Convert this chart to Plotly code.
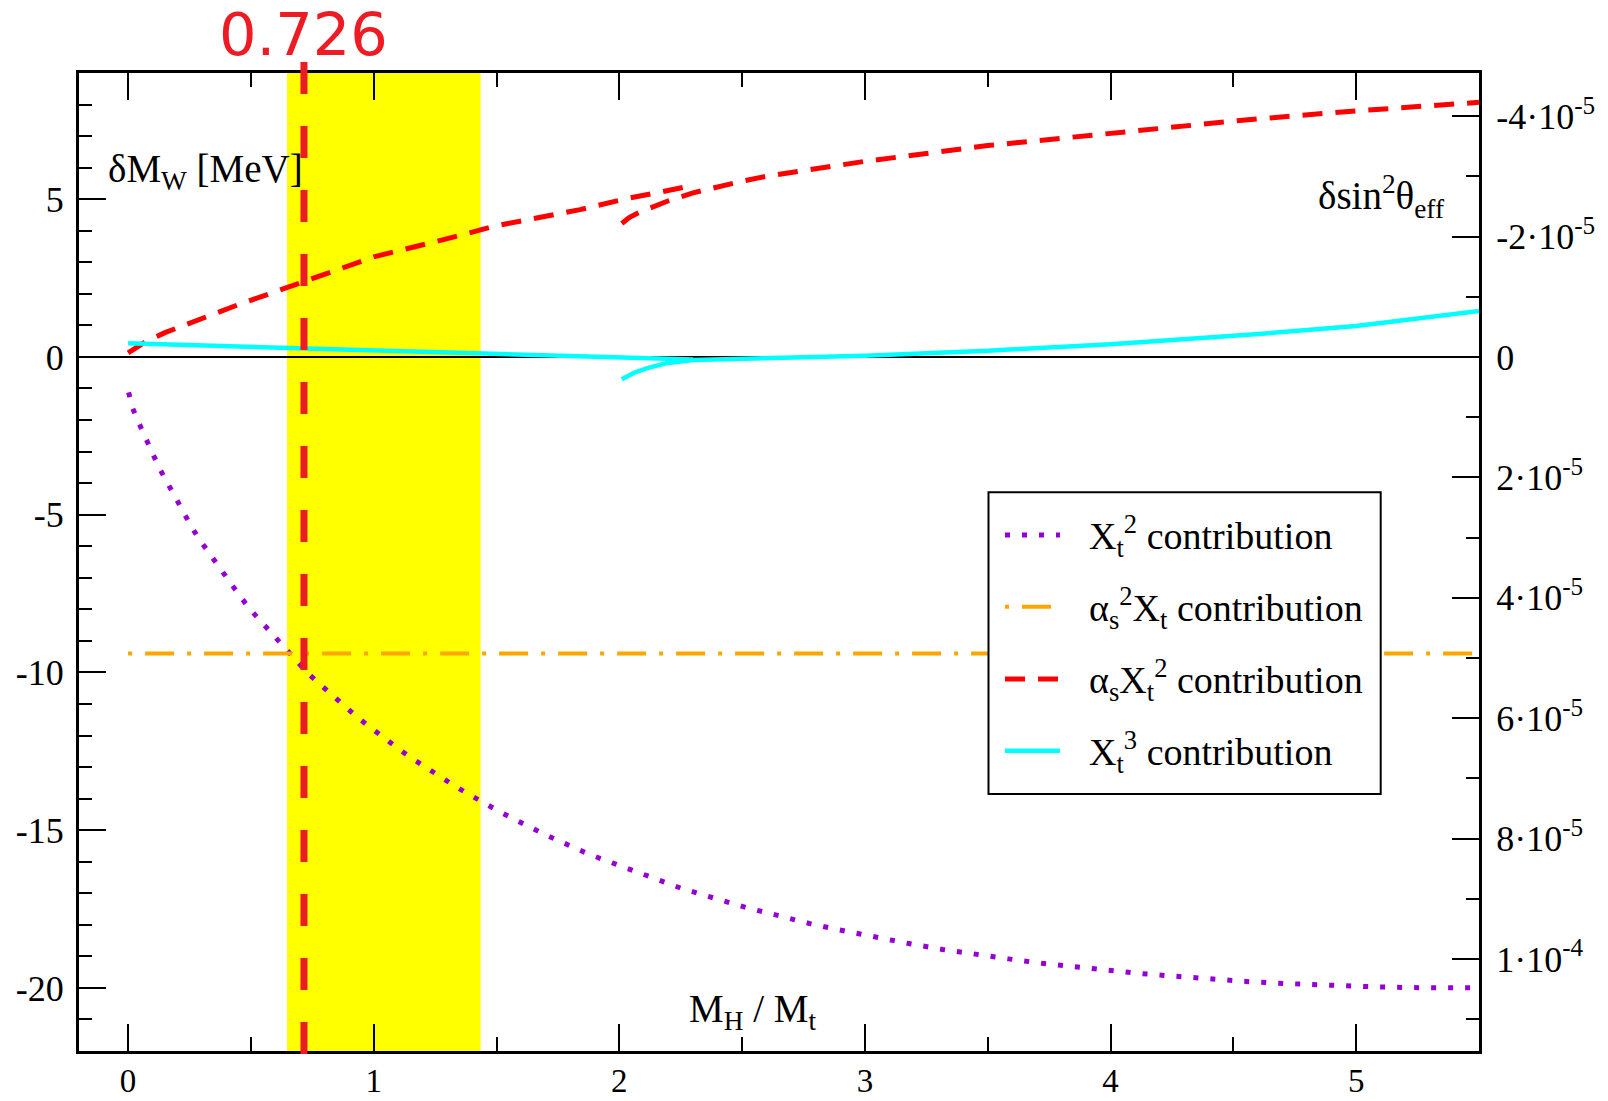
import plotly.graph_objects as go

# ---------------- data ----------------
# X_t^2 contribution (delta M_W in MeV)
xt2_x = [0.002, 0.019, 0.046, 0.072, 0.102, 0.131, 0.162, 0.195, 0.228, 0.262, 0.299, 0.338,
         0.377, 0.418, 0.458, 0.500, 0.546, 0.589, 0.634, 0.682, 0.727, 0.779, 0.829, 0.880,
         0.933, 0.986, 1.039, 1.095, 1.151, 1.207, 1.265, 1.322, 1.380, 1.439, 1.500, 1.561,
         1.621, 1.684, 1.746, 1.808, 1.870, 1.934, 2.251, 2.384, 2.515, 2.648, 2.780, 2.913,
         3.046, 3.183, 3.316, 3.449, 3.584, 3.721, 3.856, 3.993, 4.130, 4.264, 4.402, 4.539,
         4.675, 4.812, 4.949, 5.087, 5.223, 5.361, 5.500]
xt2_y = [-1.12, -1.64, -2.13, -2.61, -3.10, -3.58, -4.04, -4.52, -4.97, -5.44, -5.88, -6.32,
         -6.75, -7.19, -7.61, -8.03, -8.43, -8.83, -9.23, -9.61, -9.99, -10.36, -10.72, -11.07,
         -11.42, -11.74, -12.07, -12.39, -12.70, -12.99, -13.28, -13.56, -13.83, -14.11, -14.36, -14.61,
         -14.86, -15.09, -15.31, -15.53, -15.74, -15.93, -16.84, -17.15, -17.45, -17.71, -17.97, -18.19,
         -18.40, -18.60, -18.78, -18.94, -19.08, -19.22, -19.34, -19.45, -19.55, -19.63, -19.72, -19.79,
         -19.85, -19.90, -19.94, -19.97, -19.99, -20.00, -20.00]

# alpha_s^2 X_t contribution (constant)
as2xt_x = [0.0, 5.5]
as2xt_y = [-9.4, -9.4]

# alpha_s X_t^2 contribution: low-mass expansion and high-mass expansion
asxt2_low_x = [0.0, 0.07, 0.15, 0.3, 0.45, 0.6, 0.8, 1.0, 1.3, 1.5, 1.84, 2.03, 2.17, 2.3]
asxt2_low_y = [0.13, 0.48, 0.77, 1.22, 1.66, 2.07, 2.64, 3.17, 3.75, 4.16, 4.67, 5.02, 5.23, 5.44]
asxt2_high_x = [2.01, 2.04, 2.08, 2.13, 2.2, 2.3, 2.4, 2.5, 2.6, 3.0, 3.5, 4.0, 4.56, 5.0, 5.5]
asxt2_high_y = [4.23, 4.42, 4.58, 4.74, 4.95, 5.2, 5.4, 5.57, 5.73, 6.2, 6.7, 7.1, 7.52, 7.8, 8.07]

# X_t^3 contribution: low-mass expansion and high-mass expansion
xt3_low_x = [0.0, 0.72, 1.44, 1.84, 2.3]
xt3_low_y = [0.43, 0.27, 0.11, 0.04, -0.08]
xt3_high_x = [2.01, 2.06, 2.11, 2.19, 2.3, 2.45, 2.65, 3.0, 3.5, 4.0, 4.56, 5.0, 5.5]
xt3_high_y = [-0.71, -0.50, -0.36, -0.20, -0.10, -0.07, -0.05, 0.04, 0.2, 0.4, 0.70, 0.98, 1.46]

# allowed band and marked value of M_H / M_t (line position as drawn in the picture)
band = [0.647, 1.435]
mh_over_mt = 0.716
mh_label = "0.726"

# axes
x_range = [-0.2, 5.5]
y_range = [-22, 9]
x_ticks = [0, 1, 2, 3, 4, 5]
y_ticks = [-20, -15, -10, -5, 0, 5]
y_ticktext = ["-20", "-15", "-10", "-5", "0", "5"]
sin2_per_mev = -5.24e-6          # conversion delta sin^2 theta_eff per MeV of delta M_W
y2_ticks = [-4e-5, -2e-5, 0, 2e-5, 4e-5, 6e-5, 8e-5, 1e-4]
y2_ticktext = ["-4·10<sup>-5</sup>", "-2·10<sup>-5</sup>", "0", "2·10<sup>-5</sup>",
               "4·10<sup>-5</sup>", "6·10<sup>-5</sup>", "8·10<sup>-5</sup>", "1·10<sup>-4</sup>"]

legend_labels = ["X<sub>t</sub><sup>2</sup> contribution",
                 "α<sub>s</sub><sup>2</sup>X<sub>t</sub> contribution",
                 "α<sub>s</sub>X<sub>t</sub><sup>2</sup> contribution",
                 "X<sub>t</sub><sup>3</sup> contribution"]

# ---------------- styling ----------------
SERIF = "Liberation Serif, Times New Roman, serif"
SANS = "DejaVu Sans, Liberation Sans, Arial, sans-serif"
W, H = 1608, 1101
ML, MR, MT, MB = 79, 129, 73, 50
PW, PH = W - ML - MR, H - MT - MB

def pxx(p):
    return (p - ML) / PW

def pxy(p):
    return (H - MB - p) / PH

PURPLE = "#9400D3"
ORANGE = "#FFA500"
RED = "#FF0000"
CYAN = "#00FFFF"
MARK_RED = "#ED1C24"

styles = [
    dict(color=PURPLE, width=5, dash="5px,12px"),
    dict(color=ORANGE, width=4, dash="4px,13px,29px,13px"),
    dict(color=RED, width=5, dash="20px,13px"),
    dict(color=CYAN, width=4.5, dash="solid"),
]

fig = go.Figure()

fig.add_trace(go.Scatter(x=xt2_x, y=xt2_y, mode="lines", line=styles[0],
                         name="X_t^2 contribution", showlegend=False))
fig.add_trace(go.Scatter(x=as2xt_x, y=as2xt_y, mode="lines", line=styles[1],
                         name="alpha_s^2 X_t contribution", showlegend=False))
fig.add_trace(go.Scatter(x=asxt2_low_x, y=asxt2_low_y, mode="lines", line=styles[2],
                         name="alpha_s X_t^2 contribution", showlegend=False))
fig.add_trace(go.Scatter(x=asxt2_high_x, y=asxt2_high_y, mode="lines", line=styles[2],
                         name="alpha_s X_t^2 contribution (high)", showlegend=False))
fig.add_trace(go.Scatter(x=xt3_low_x, y=xt3_low_y, mode="lines", line=styles[3],
                         name="X_t^3 contribution", showlegend=False))
fig.add_trace(go.Scatter(x=xt3_high_x, y=xt3_high_y, mode="lines", line=styles[3],
                         name="X_t^3 contribution (high)", showlegend=False))
# empty trace so that the right-hand delta sin^2 theta_eff axis is drawn
fig.add_trace(go.Scatter(x=[], y=[], yaxis="y2", mode="lines", showlegend=False,
                         hoverinfo="skip", name="sin2 axis"))

shapes = []
# yellow band
shapes.append(dict(type="rect", xref="x", yref="paper", x0=band[0], x1=band[1], y0=0, y1=1,
                   fillcolor="#FFFF00", line=dict(width=0), layer="below"))
# marked value
shapes.append(dict(type="line", xref="x", yref="paper", x0=mh_over_mt, x1=mh_over_mt,
                   y0=pxy(62), y1=pxy(1057), line=dict(color=MARK_RED, width=7, dash="32px,32px"),
                   layer="above"))

# manual legend
lx0, lx1, ly0, ly1 = 988.5, 1380.7, 492.3, 794
shapes.append(dict(type="rect", xref="paper", yref="paper", x0=pxx(lx0), x1=pxx(lx1),
                   y0=pxy(ly1), y1=pxy(ly0), fillcolor="white",
                   line=dict(color="black", width=2), layer="above"))
row_y = [535, 606.7, 679, 750.7]
annotations = []
for i, (lab, st) in enumerate(zip(legend_labels, styles)):
    shapes.append(dict(type="line", xref="paper", yref="paper", x0=pxx(1005), x1=pxx(1060),
                       y0=pxy(row_y[i]), y1=pxy(row_y[i]), line=st, layer="above"))
    annotations.append(dict(xref="paper", yref="paper", x=pxx(1087), y=pxy(row_y[i] + 1),
                            text=lab, showarrow=False, xanchor="left", yanchor="middle",
                            font=dict(family=SERIF, size=38, color="black")))

annotations += [
    dict(xref="x", yref="paper", x=mh_over_mt, y=pxy(35), text=mh_label, showarrow=False,
         xanchor="center", yanchor="middle", font=dict(family=SANS, size=59, color=MARK_RED)),
    dict(xref="paper", yref="paper", x=pxx(106), y=pxy(172), text="δM<sub>W</sub> [MeV]",
         showarrow=False, xanchor="left", yanchor="middle",
         font=dict(family=SERIF, size=39, color="black")),
    dict(xref="paper", yref="paper", x=pxx(1447), y=pxy(197),
         text="δsin<sup>2</sup>θ<sub>eff</sub>", showarrow=False, xanchor="right",
         yanchor="middle", font=dict(family=SERIF, size=39, color="black")),
    dict(xref="paper", yref="paper", x=pxx(752), y=pxy(1011),
         text="M<sub>H</sub> / M<sub>t</sub>", showarrow=False, xanchor="center",
         yanchor="middle", font=dict(family=SERIF, size=39, color="black")),
]

tickfont = dict(family=SERIF, size=36, color="black")
xtickfont = dict(family=SERIF, size=33, color="black")

fig.update_layout(
    width=W, height=H,
    margin=dict(l=ML, r=MR, t=MT, b=MB, autoexpand=False),
    paper_bgcolor="white", plot_bgcolor="white",
    showlegend=False,
    shapes=shapes, annotations=annotations,
    xaxis=dict(range=x_range, tickmode="array", tickvals=x_ticks, ticks="inside", ticklen=27,
               tickwidth=2, tickcolor="black", showline=True, linewidth=3, linecolor="black",
               mirror="ticks", showgrid=False, zeroline=False, tickfont=xtickfont,
               automargin=False, ticklabelstandoff=-2,
               minor=dict(dtick=0.5, tick0=0, ticks="inside", ticklen=14, tickwidth=2,
                          tickcolor="black", showgrid=False)),
    yaxis=dict(range=y_range, tickmode="array", tickvals=y_ticks, ticktext=y_ticktext,
               ticks="inside", ticklen=27, tickwidth=2, tickcolor="black", showline=True,
               linewidth=3, linecolor="black", mirror=False, showgrid=False, zeroline=True,
               zerolinecolor="black", zerolinewidth=2, tickfont=tickfont,
               automargin=False, ticklabelstandoff=5,
               minor=dict(dtick=1, tick0=0, ticks="inside", ticklen=13, tickwidth=2,
                          tickcolor="black", showgrid=False)),
    yaxis2=dict(overlaying="y", side="right",
                range=[y_range[0] * sin2_per_mev, y_range[1] * sin2_per_mev],
                tickmode="array", tickvals=y2_ticks, ticktext=y2_ticktext,
                ticks="inside", ticklen=27, tickwidth=2, tickcolor="black", showline=True,
                linewidth=3, linecolor="black", showgrid=False, zeroline=False,
                tickfont=tickfont, automargin=False, ticklabelstandoff=7,
                minor=dict(dtick=1e-5, tick0=0, ticks="inside", ticklen=13, tickwidth=2,
                           tickcolor="black", showgrid=False)),
)

fig.write_html("out.html", config={"displayModeBar": False},
               post_script="document.body.style.margin='0';document.body.style.overflow='hidden';")
